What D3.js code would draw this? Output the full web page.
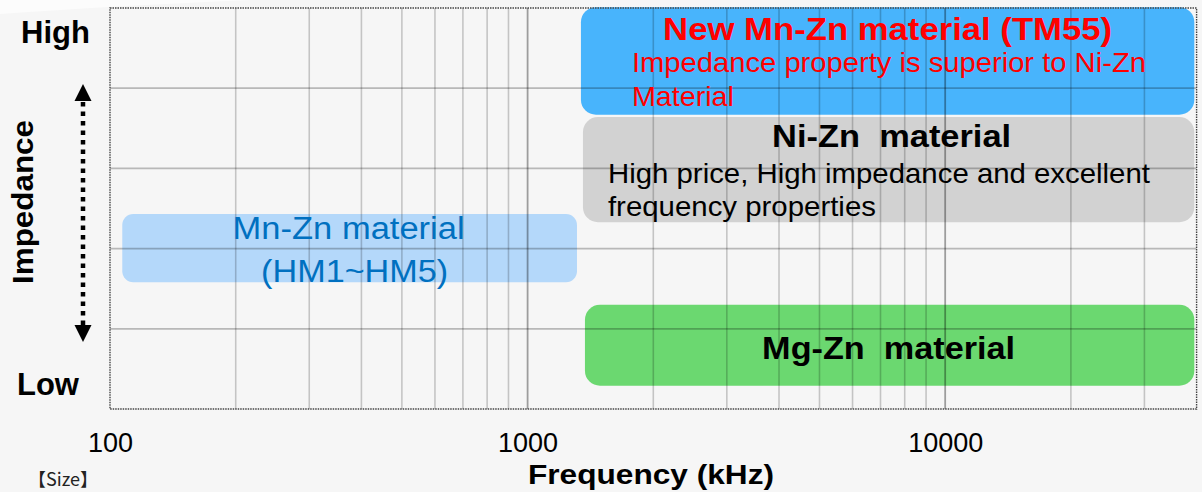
<!DOCTYPE html>
<html><head><meta charset="utf-8">
<script src="https://cdn.jsdelivr.net/npm/d3@7"></script>
<style>html,body{margin:0;padding:0;background:#f6f6f6;overflow:hidden}svg{display:block}</style>
</head><body><svg id="c" width="1202" height="492"></svg>
<script>
// ---- data ----
const materials = ["New Mn-Zn material (TM55)", "Ni-Zn  material", "Mn-Zn material", "Mg-Zn  material"];
const freqStart = [1342, 1357, 107, 1372];          // kHz
const freqEnd = [39500, 39500, 1313, 39500];        // kHz
const impedanceLow = [3.67, 2.33, 1.58, 0.29];      // relative level (0 = Low, 5 = High)
const impedanceHigh = [5.01, 3.64, 2.43, 1.30];
const notes = [["Impedance property is superior to Ni-Zn", "Material"],
               ["High price, High impedance and excellent", "frequency properties"],
               ["(HM1~HM5)"],
               []];
const freqTickLabels = [100, 1000, 10000];
const levelLabels = ["High", "Low"];
const freqDomain = [100, 40000];
const levelDomain = [0, 5];

// ---- styles / layout ----
const W = 1202, H = 492;
const plot = {left: 110, right: 1196.6, top: 8, bottom: 409};
const boxFill = ["#48b4fc", "#d2d2d2", "#b4d8fa", "#6bd870"];
const titleStyle = [
  {color: "#ff0000", weight: "bold", size: 32, dy: 33, len: 449, dx: 0},
  {color: "#000", weight: "bold", size: 32, dy: 30, len: 239, dx: 3},
  {color: "#0070c0", weight: "normal", size: 31, dy: 25, len: 232, dx: -1},
  {color: "#000", weight: "bold", size: 32, dy: 54, len: 253, dx: -1}
];
const noteStyle = [
  {color: "#ff0000", size: 28, anchor: "start", dx: 51, dys: [65, 99], lens: [514, 102]},
  {color: "#000", size: 28, anchor: "start", dx: 25, dys: [66, 99], lens: [542, 268]},
  {color: "#0070c0", size: 31, anchor: "middle", dx: null, dys: [68], lens: [187]},
  {color: "#000", size: 28, anchor: "start", dx: 0, dys: [], lens: []}
];
const FONT = "'Liberation Sans', Arial, Helvetica, sans-serif";

const svg = d3.select("#c");
svg.append("rect").attr("width", W).attr("height", H).attr("fill", "#f6f6f6");
// faint decorative arc at top-left
svg.append("path").attr("d", "M0,0 L0,14 Q110,6 250,0 Z").attr("fill", "#fcfcfc");

const x = d3.scaleLog().domain(freqDomain).range([plot.left, plot.right]);
const y = d3.scaleLinear().domain(levelDomain).range([plot.bottom, plot.top]);

// boxes
const g = svg.append("g");
materials.forEach((m, i) => {
  const x0 = x(freqStart[i]), x1 = x(freqEnd[i]);
  const y0 = y(impedanceHigh[i]), y1 = y(impedanceLow[i]);
  g.append("rect").attr("x", x0).attr("y", y0).attr("width", x1 - x0).attr("height", y1 - y0)
    .attr("rx", i === 2 ? 11 : 15).attr("fill", boxFill[i]);
});

// gridlines (drawn over boxes, translucent)
const grid = svg.append("g");
x.ticks().filter(v => v > freqDomain[0] && v < freqDomain[1]).forEach(v => {
  const major = freqTickLabels.includes(v);
  grid.append("line").attr("x1", x(v)).attr("x2", x(v)).attr("y1", plot.top).attr("y2", plot.bottom)
    .attr("stroke", "#000").attr("stroke-opacity", major ? 0.36 : 0.2).attr("stroke-width", major ? 1.8 : 1.6);
});
[1, 2, 3, 4].forEach(v => {
  grid.append("line").attr("x1", plot.left).attr("x2", plot.right).attr("y1", y(v)).attr("y2", y(v))
    .attr("stroke", "#000").attr("stroke-opacity", 0.25).attr("stroke-width", 1.8);
});

// plot border (dotted)
svg.append("rect").attr("x", plot.left).attr("y", plot.top)
  .attr("width", plot.right - plot.left).attr("height", plot.bottom - plot.top)
  .attr("fill", "none").attr("stroke", "#444").attr("stroke-width", 1.4).attr("stroke-dasharray", "1.5,1");

// box texts
materials.forEach((m, i) => {
  const x0 = x(freqStart[i]), x1 = x(freqEnd[i]);
  const y0 = y(impedanceHigh[i]);
  const ts = titleStyle[i];
  svg.append("text").attr("x", (x0 + x1) / 2 + ts.dx).attr("y", y0 + ts.dy)
    .attr("text-anchor", "middle").attr("font-family", FONT).attr("font-size", ts.size)
    .attr("font-weight", ts.weight).attr("fill", ts.color)
    .attr("textLength", ts.len).attr("lengthAdjust", "spacingAndGlyphs").style("white-space", "pre").text(m);
  const ns = noteStyle[i];
  notes[i].forEach((n, k) => {
    const nx = ns.anchor === "middle" ? (x0 + x1) / 2 + 5 : x0 + ns.dx;
    svg.append("text").attr("x", nx).attr("y", y0 + ns.dys[k])
      .attr("text-anchor", ns.anchor).attr("font-family", FONT).attr("font-size", ns.size)
      .attr("fill", ns.color).attr("textLength", ns.lens[k]).attr("lengthAdjust", "spacingAndGlyphs").text(n);
  });
});

// x axis labels
const xAxis = d3.axisBottom(x).tickValues(freqTickLabels).tickFormat(d3.format("d")).tickSize(0).tickPadding(24);
const ax = svg.append("g").attr("transform", `translate(0,${plot.bottom})`).call(xAxis);
ax.select(".domain").remove();
ax.selectAll("text").attr("font-family", FONT).attr("font-size", 27).attr("fill", "#000");

svg.append("text").attr("x", 651).attr("y", 484).attr("text-anchor", "middle")
  .attr("font-family", FONT).attr("font-size", 28).attr("font-weight", "bold").attr("fill", "#000")
  .attr("textLength", 246).attr("lengthAdjust", "spacingAndGlyphs").text("Frequency (kHz)");

// y side: High / Low
svg.append("text").attr("x", 21).attr("y", 43).attr("font-family", FONT).attr("font-size", 31)
  .attr("font-weight", "bold").attr("fill", "#000").text(levelLabels[0]);
svg.append("text").attr("x", 17).attr("y", 395).attr("font-family", FONT).attr("font-size", 31)
  .attr("font-weight", "bold").attr("fill", "#000").text(levelLabels[1]);

// Impedance label (rotated)
svg.append("text").attr("transform", "translate(33,202) rotate(-90)").attr("text-anchor", "middle")
  .attr("font-family", FONT).attr("font-size", 30).attr("font-weight", "bold").attr("fill", "#000")
  .attr("textLength", 164).attr("lengthAdjust", "spacingAndGlyphs").text("Impedance");

// dotted double arrow
const ArX = 83;
svg.append("line").attr("x1", ArX).attr("x2", ArX).attr("y1", 102).attr("y2", 325)
  .attr("stroke", "#000").attr("stroke-width", 4.5).attr("stroke-dasharray", "4.5,5");
svg.append("path").attr("d", `M${ArX},84 L${ArX - 8.5},101 L${ArX + 8.5},101 Z`).attr("fill", "#000");
svg.append("path").attr("d", `M${ArX},342 L${ArX - 8.5},325 L${ArX + 8.5},325 Z`).attr("fill", "#000");

// size note
svg.append("text").attr("x", 28).attr("y", 486).attr("font-family", "'Noto Sans CJK JP', " + FONT)
  .attr("font-size", 18).attr("fill", "#222").text("【Size】");
</script></body></html>
